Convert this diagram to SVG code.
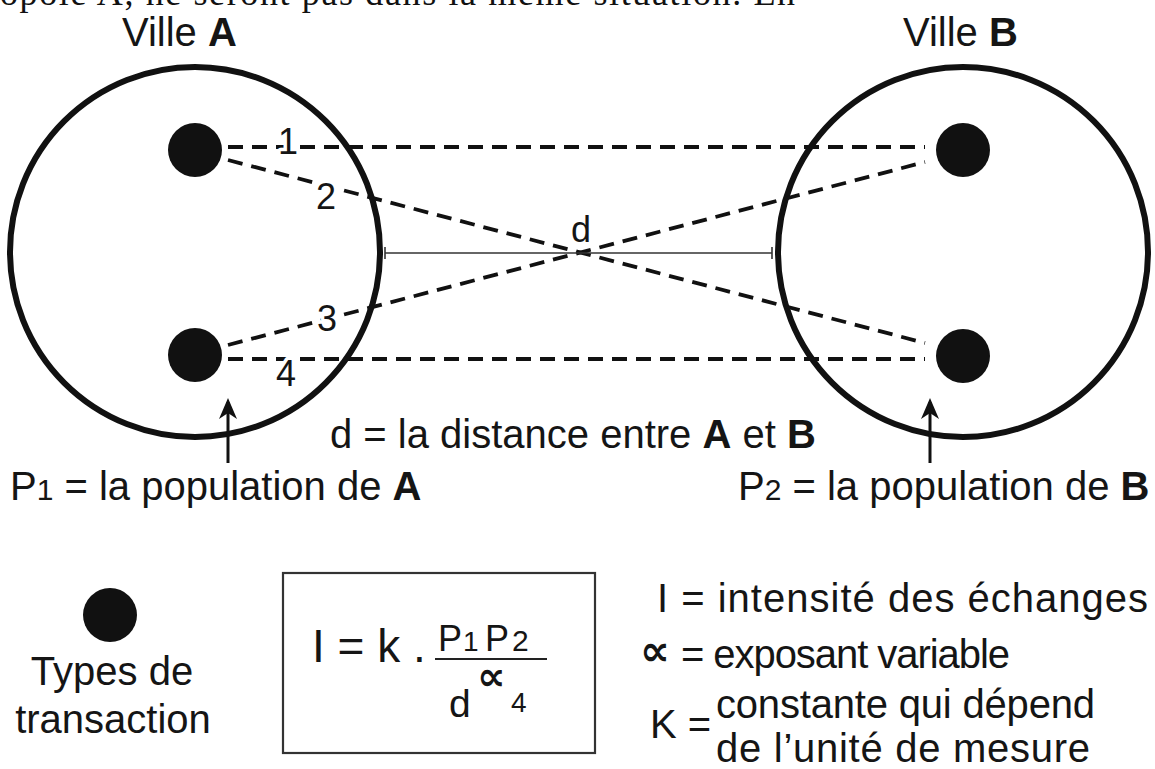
<svg xmlns="http://www.w3.org/2000/svg" width="1155" height="769" viewBox="0 0 1155 769">
<style>
  .t { font-family: "Liberation Sans", Arial, sans-serif; font-size: 40px; fill: #151515; }
  .b { font-weight: bold; }
  .num { font-family: "Liberation Sans", Arial, sans-serif; font-size: 36px; fill: #151515; stroke: #fff; stroke-width: 7px; paint-order: stroke; stroke-linejoin: round; }
  .city { fill: #fff; stroke: #111; stroke-width: 6; }
  .dot { fill: #111; }
  .dash { stroke: #111; stroke-width: 3.8; stroke-dasharray: 15 9; fill: none; }
  .thin { stroke: #333; stroke-width: 1.6; fill: none; }
  .arrow { stroke: #111; stroke-width: 3; fill: none; }
  .sym { font-family: "DejaVu Sans", sans-serif; font-weight: bold; fill: #151515; }
</style>
<rect width="1155" height="769" fill="#fff"/>
<text x="0" y="5" font-family="Liberation Serif, 'DejaVu Serif', serif" font-size="36" fill="#111" textLength="795">opole A, ne seront pas dans la même situation. En</text>

<g id="villeA">
  <circle class="city" cx="195" cy="252" r="185"/>
  <text class="t" x="122" y="46">Ville <tspan class="b">A</tspan></text>
  <circle class="dot" cx="195" cy="150" r="27"/>
  <circle class="dot" cx="195" cy="355" r="27"/>
</g>
<g id="villeB">
  <circle class="city" cx="963" cy="252" r="185"/>
  <text class="t" x="903" y="46">Ville <tspan class="b">B</tspan></text>
  <circle class="dot" cx="963" cy="150" r="27"/>
  <circle class="dot" cx="963" cy="356" r="27"/>
</g>

<g id="connectors">
  <line class="dash" x1="228" y1="147" x2="925" y2="147"/>
  <line class="dash" x1="228" y1="160" x2="925" y2="343"/>
  <line class="dash" x1="228" y1="345" x2="925" y2="162"/>
  <line class="dash" x1="228" y1="359" x2="925" y2="359"/>
  <line class="thin" x1="385" y1="253" x2="772" y2="253"/>
  <line class="thin" x1="385" y1="247" x2="385" y2="259"/>
  <line class="thin" x1="772" y1="247" x2="772" y2="259"/>
  <line class="arrow" x1="228" y1="402" x2="228" y2="463"/>
  <path d="M228,398 L219,419 L228,413 L237,419 Z" fill="#111"/>
  <line class="arrow" x1="930" y1="402" x2="930" y2="463"/>
  <path d="M930,398 L921,419 L930,413 L939,419 Z" fill="#111"/>
</g>

<g id="labels-lines">
  <text class="num" x="288" y="154" text-anchor="middle">1</text>
  <text class="num" x="326" y="209" text-anchor="middle">2</text>
  <text class="num" x="327" y="331" text-anchor="middle">3</text>
  <text class="num" x="286" y="386" text-anchor="middle">4</text>
  <text class="num" x="581" y="242" text-anchor="middle">d</text>
</g>

<g id="label-distance">
  <text class="t" x="330" y="448">d = la distance entre <tspan class="b">A</tspan> et <tspan class="b">B</tspan></text>
</g>
<g id="label-P1">
  <text class="t" x="10" y="500">P<tspan style="font-size:30px">1</tspan> = la population de <tspan class="b">A</tspan></text>
</g>
<g id="label-P2">
  <text class="t" x="738" y="500">P<tspan style="font-size:30px">2</tspan> = la population de <tspan class="b">B</tspan></text>
</g>

<g id="legend-types">
  <circle class="dot" cx="110" cy="615" r="27"/>
  <text class="t" x="112" y="685" text-anchor="middle">Types de</text>
  <text class="t" x="113" y="733" text-anchor="middle">transaction</text>
</g>

<g id="formula">
  <rect x="283" y="573" width="312" height="180" fill="none" stroke="#333" stroke-width="2.2"/>
  <text class="t" x="312" y="662" style="font-size:46px">I = k .</text>
  <text class="t" x="438" y="651" style="font-size:36px">P</text>
  <text class="t" x="463" y="651" style="font-size:28px">1</text>
  <text class="t" x="485" y="651" style="font-size:36px">P</text>
  <text class="t" x="512" y="651" style="font-size:30px">2</text>
  <line x1="435" y1="659" x2="547" y2="659" stroke="#222" stroke-width="2.2"/>
  <text class="t" x="449" y="717" style="font-size:39px">d</text>
  <text class="sym" x="477" y="690" style="font-size:40px">∝</text>
  <text class="t" x="511" y="712" style="font-size:28px">4</text>
</g>

<g id="legend-defs">
  <text class="t" x="657" y="612" textLength="491">I = intensité des échanges</text>
  <text class="sym" x="640" y="665" style="font-size:42px">∝</text>
  <text class="t" x="681" y="668" textLength="329">= exposant variable</text>
  <text class="t" x="650" y="738">K =</text>
  <text class="t" x="716" y="718" textLength="379">constante qui dépend</text>
  <text class="t" x="716" y="762" textLength="374">de l’unité de mesure</text>
</g>
</svg>
